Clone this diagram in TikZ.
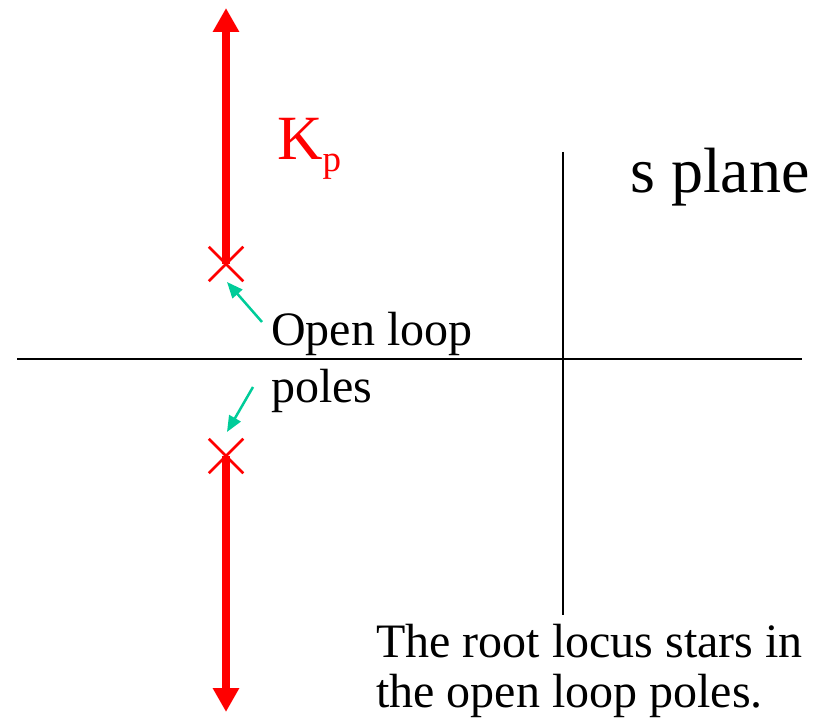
\documentclass[tikz,border=0pt]{standalone}
\usepackage{fontspec}
\setmainfont{Liberation Serif}
\usetikzlibrary{arrows.meta, calc, shapes.misc}
\definecolor{locusred}{HTML}{FF0000}
\definecolor{hintgreen}{HTML}{00CC99}

\begin{document}
\begin{tikzpicture}[x=1pt, y=-1pt,
    axis/.style={draw=black, line width=2pt},
    pole/.style={cross out, draw=locusred, line width=2.5pt, minimum size=32pt, inner sep=0pt},
    locus/.style={-{Triangle[width=25pt, length=24pt]}, line width=8pt, locusred},
    hint/.style={-{Triangle[width=13pt, length=16pt]}, line width=2.5pt, hintgreen},
    lbl/.style={anchor=base west, inner sep=0pt, font=\fontsize{48}{57}\selectfont}
  ]
  \useasboundingbox (0,0) rectangle (820,722);

  % axes
  \coordinate (rel) at (17,359);
  \coordinate (rer) at (802,359);
  \coordinate (imt) at (563,152);
  \coordinate (imb) at (563,615);
  \draw[axis] (rel) -- (rer);
  \draw[axis] (imt) -- (imb);

  % open loop poles and locus branches
  \node[pole] (p1) at (226,264) {};
  \node[pole] (p2) at (226,456) {};
  \coordinate (top) at (226,8);
  \coordinate (bot) at (226,712);
  \draw[locus] (p1.center) -- (top);
  \draw[locus] (p2.center) -- (bot);

  % labels
  \node[lbl, text=locusred, font=\fontsize{63}{63}\selectfont] (kp) at (277,160) {K\raisebox{-12pt}{\fontsize{37}{37}\selectfont p}};
  \node[lbl, font=\fontsize{64}{64}\selectfont] (sp) at (630,193) {s plane};
  \node[lbl] (ol) at (271,345) {Open loop};
  \node[lbl] (po) at (271,402) {poles};
  \node[lbl] (note1) at (376,657) {The root locus stars in};
  \node[lbl] (note2) at (376,707) {the open loop poles.};

  % pointers
  \coordinate (h1) at (262,322);
  \coordinate (h2) at (253,387);
  \draw[hint] (h1) -- ($(p1)+(1,18)$);
  \draw[hint] (h2) -- ($(p2)+(1,-24)$);
\end{tikzpicture}
\end{document}
